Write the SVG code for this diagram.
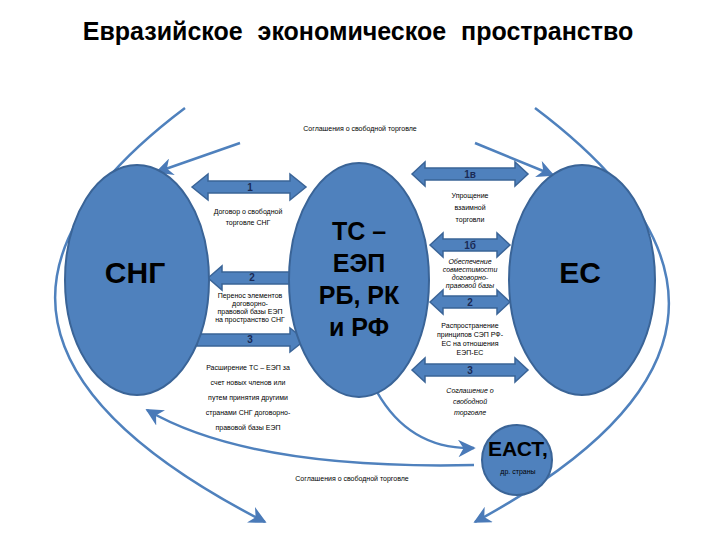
<svg xmlns="http://www.w3.org/2000/svg" width="720" height="540" viewBox="0 0 720 540">
<defs>
<marker id="ah" viewBox="0 0 10 10" refX="9" refY="5" markerWidth="7" markerHeight="7" orient="auto"><path d="M0,0 L10,5 L0,10 L3,5 z" fill="#4a7ab8"/></marker>
<style>
.n{fill:#4f81bd;stroke:#3a6497;stroke-width:2}
.ba{fill:#4f81bd;stroke:#3a6497;stroke-width:1.5}
.c{fill:none;stroke:#4f81bd;stroke-width:2.5;marker-end:url(#ah)}
.t{font-family:"Liberation Sans",Arial,sans-serif;font-size:7px;fill:#000;text-anchor:middle}
.it{font-style:italic}
.big{font-family:"Liberation Sans",Arial,sans-serif;font-weight:bold;fill:#000;text-anchor:middle}
.num{font-family:"Liberation Sans",Arial,sans-serif;font-size:10px;font-weight:bold;fill:#1a2a55;text-anchor:middle}
</style>
</defs>
<rect width="720" height="540" fill="#fff"/>
<text x="358" y="40" class="big" font-size="25" word-spacing="8">Евразийское экономическое пространство</text>
<g id="connectors">
<path class="c" d="M185,108 Q-110,330 265,522"/>
<path class="c" d="M535,108 Q830,330 475,522"/>
<path class="c" d="M240,143 L157,172"/>
<path class="c" d="M475,143 L553,175"/>
<path class="c" d="M474,465 Q250,470 147,410"/>
<path class="c" d="M377,392 Q410,450 474,448"/>
</g>
<g id="arrows">
<path class="ba" d="M192,187 L208,174 L208,181 L290,181 L290,174 L306,187 L290,200 L290,193 L208,193 L208,200 z"/>
<text x="250" y="191" class="num">1</text>
<path class="ba" d="M208,278 L222,266 L222,272 L290,272 L290,284 L222,284 L222,290 z"/>
<text x="252" y="281" class="num">2</text>
<path class="ba" d="M197,334 L290,334 L290,328 L305,340 L290,352 L290,346 L197,346 z"/>
<text x="250" y="343" class="num">3</text>
<path class="ba" d="M412,174 L425,162 L425,168 L515,168 L515,162 L528,174 L515,186 L515,180 L425,180 L425,186 z"/>
<text x="470" y="178" class="num">1в</text>
<path class="ba" d="M430,245 L443,233 L443,239 L497,239 L497,233 L510,245 L497,257 L497,251 L443,251 L443,257 z"/>
<text x="470" y="249" class="num">1б</text>
<path class="ba" d="M430,302 L443,290 L443,296 L497,296 L497,290 L510,302 L497,314 L497,308 L443,308 L443,314 z"/>
<text x="470" y="306" class="num">2</text>
<path class="ba" d="M412,370 L425,358 L425,364 L515,364 L515,358 L528,370 L515,382 L515,376 L425,376 L425,382 z"/>
<text x="470" y="374" class="num">3</text>
</g>
<g id="sng"><ellipse class="n" cx="137" cy="280" rx="72" ry="115"/><text x="135" y="283" class="big" font-size="30">СНГ</text></g>
<g id="ts"><ellipse class="n" cx="359" cy="280" rx="70" ry="117"/>
<text class="big" font-size="25"><tspan x="359" y="240">ТС –</tspan><tspan x="359" y="272">ЕЭП</tspan><tspan x="359" y="304">РБ, РК</tspan><tspan x="359" y="336">и РФ</tspan></text></g>
<g id="es"><ellipse class="n" cx="582" cy="280" rx="73" ry="115"/><text x="580" y="283" class="big" font-size="30">ЕС</text></g>
<g id="east"><circle class="n" cx="517" cy="460" r="35"/><text x="518" y="456" class="big" font-size="21">ЕАСТ,</text><text x="518" y="474" class="t" font-size="11">др. страны</text></g>
<g id="labels">
<text x="360" y="131" class="t" font-size="9">Соглашения о свободной торговле</text>
<text x="352" y="481" class="t" font-size="9">Соглашения о свободной торговле</text>
<text class="t"><tspan x="248" y="214">Договор о свободной</tspan><tspan x="248" y="225">торговле СНГ</tspan></text>
<text class="t" font-size="6.5"><tspan x="250" y="298">Перенос элементов</tspan><tspan x="250" y="306">договорно-</tspan><tspan x="250" y="314">правовой базы ЕЭП</tspan><tspan x="250" y="322">на пространство СНГ</tspan></text>
<text class="t"><tspan x="248" y="370">Расширение ТС – ЕЭП за</tspan><tspan x="248" y="385">счет новых членов или</tspan><tspan x="248" y="400">путем принятия другими</tspan><tspan x="248" y="415">странами СНГ договорно-</tspan><tspan x="248" y="430">правовой базы ЕЭП</tspan></text>
<text class="t"><tspan x="470" y="198">Упрощение</tspan><tspan x="470" y="210">взаимной</tspan><tspan x="470" y="222">торговли</tspan></text>
<text class="t it"><tspan x="470" y="264">Обеспечение</tspan><tspan x="470" y="272">совместимости</tspan><tspan x="470" y="280">договорно-</tspan><tspan x="470" y="288">правовой базы</tspan></text>
<text class="t"><tspan x="470" y="328">Распространение</tspan><tspan x="470" y="337">принципов СЭП РФ-</tspan><tspan x="470" y="346">ЕС на отношения</tspan><tspan x="470" y="355">ЕЭП-ЕС</tspan></text>
<text class="t it"><tspan x="470" y="393">Соглашение о</tspan><tspan x="470" y="404">свободной</tspan><tspan x="470" y="415">торговле</tspan></text>
</g>
</svg>
